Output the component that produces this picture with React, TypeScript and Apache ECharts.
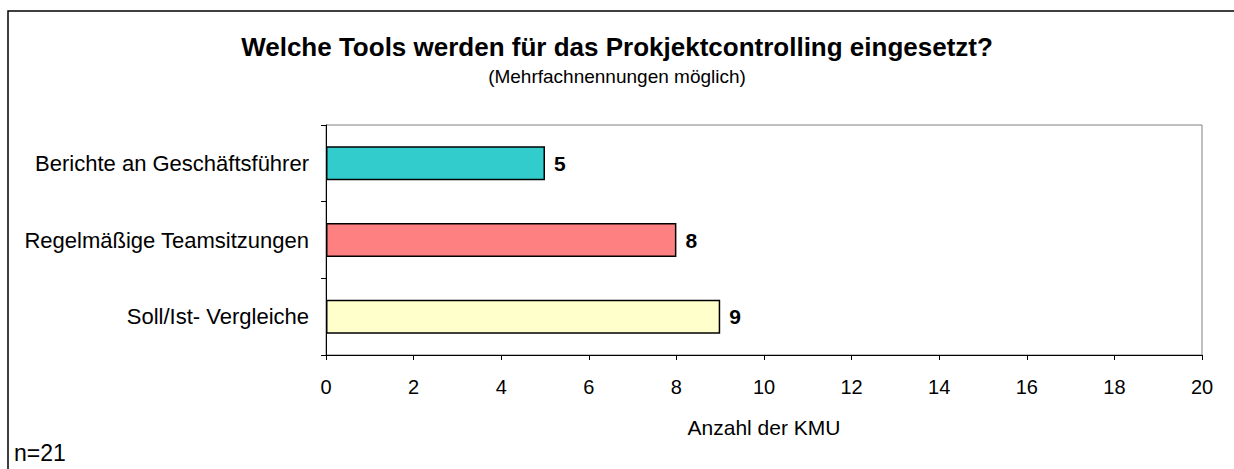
import React, { useEffect, useRef } from "react";
import * as echarts from "echarts";

const categories = [
  "Berichte an Geschäftsführer",
  "Regelmäßige Teamsitzungen",
  "Soll/Ist- Vergleiche",
];
const values = [5, 8, 9];
const barColors = ["#33CCCC", "#FF8080", "#FFFFCC"];
const xTicks = { min: 0, max: 20, interval: 2 };

const titleText = "Welche Tools werden für das Prokjektcontrolling eingesetzt?";
const subtitleText = "(Mehrfachnennungen möglich)";
const xAxisName = "Anzahl der KMU";
const noteText = "n=21";

const FONT = "'Liberation Sans', Arial, sans-serif";

export default function App() {
  const ref = useRef<HTMLDivElement>(null);
  useEffect(() => {
    document.body.style.margin = "0";
    const chart = echarts.init(ref.current!, null, { renderer: "svg" });
    chart.setOption({
      animation: false,
      backgroundColor: "#ffffff",
      textStyle: { fontFamily: FONT },
      title: {
        text: titleText,
        subtext: subtitleText,
        left: "center",
        top: 29,
        itemGap: 7,
        textStyle: { fontFamily: FONT, fontSize: 26, fontWeight: "bold", color: "#000" },
        subtextStyle: { fontFamily: FONT, fontSize: 19, color: "#000" },
      },
      grid: {
        left: 326,
        right: 32,
        top: 125,
        bottom: 114,
        show: true,
        borderColor: "#808080",
        borderWidth: 1,
        containLabel: false,
      },
      xAxis: {
        type: "value",
        min: xTicks.min,
        max: xTicks.max,
        interval: xTicks.interval,
        splitLine: { show: false },
        axisLine: { show: true, lineStyle: { color: "#000", width: 1 } },
        axisTick: { show: true, length: 5, lineStyle: { color: "#000" } },
        axisLabel: { fontFamily: FONT, fontSize: 20, color: "#000", margin: 22 },
        name: xAxisName,
        nameLocation: "middle",
        nameGap: 62,
        nameTextStyle: { fontFamily: FONT, fontSize: 21, color: "#000" },
      },
      yAxis: {
        type: "category",
        inverse: true,
        data: categories,
        axisLine: { show: true, lineStyle: { color: "#000", width: 1 } },
        axisTick: { show: true, length: 5, alignWithLabel: false, lineStyle: { color: "#000" } },
        axisLabel: { fontFamily: FONT, fontSize: 22, color: "#000", margin: 17 },
      },
      series: [
        {
          type: "bar",
          barWidth: 34,
          data: values.map((v, i) => ({
            value: v,
            itemStyle: { color: barColors[i], borderColor: "#000", borderWidth: 1.5 },
          })),
          label: {
            show: true,
            position: "right",
            distance: 9,
            fontFamily: FONT,
            fontSize: 21,
            fontWeight: "bold",
            color: "#000",
          },
        },
      ],
      graphic: [
        {
          type: "rect",
          shape: { x: 8, y: 11, width: 1400, height: 600 },
          style: { fill: "none", stroke: "#000", lineWidth: 1.5 },
          silent: true,
        },
        {
          type: "text",
          left: 14,
          top: 441,
          style: { text: noteText, fontFamily: FONT, fontSize: 23, fill: "#000" },
        },
      ],
    });
    return () => chart.dispose();
  }, []);
  return (
    <div
      ref={ref}
      style={{ position: "absolute", left: 0, top: 0, width: 1234, height: 469 }}
    />
  );
}
